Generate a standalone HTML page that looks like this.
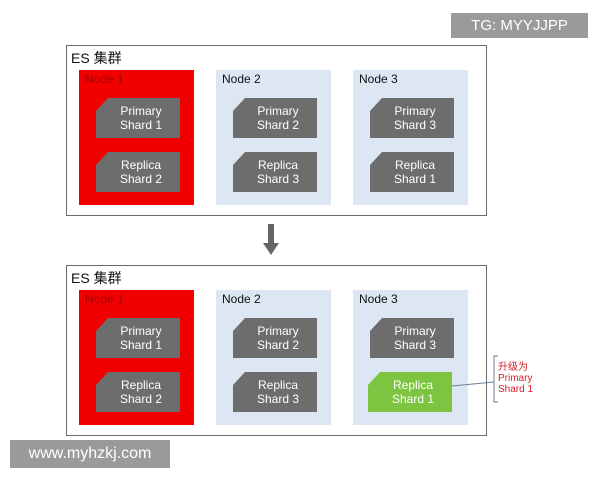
<!DOCTYPE html>
<html><head><meta charset="utf-8"><style>
body{margin:0;width:600px;height:480px;background:#fff;position:relative;overflow:hidden;font-family:"Liberation Sans","Noto Sans CJK SC",sans-serif}
.a{position:absolute}
.cl{border:1.5px solid #6a6a6a;box-sizing:border-box;background:#fff}
.t{font-size:14px;color:#111}
.n{background:#dde7f3}
.r{background:#f20000}
.nl{font-size:12px;color:#111}
.sh{width:84px;height:40px;background:#6d6d6d;clip-path:polygon(12px 0,100% 0,100% 100%,0 100%,0 13px);color:#fff;font-size:12px;line-height:14px;text-align:center;display:flex;align-items:center;justify-content:center;padding-left:6px;box-sizing:border-box}
.g{background:#7dc540}
</style></head><body>
<div class="a" style="left:451px;top:13px;width:137px;height:25px;background:#9a9a9a;color:#fff;font-size:15px;line-height:25px;text-align:center">TG: MYYJJPP</div>

<div class="a cl" style="left:66px;top:45px;width:421px;height:171px"></div>
<div class="a t" style="left:71px;top:48px">ES 集群</div>
<div class="a r" style="left:79px;top:70px;width:115px;height:135px"></div>
<div class="a n" style="left:216px;top:70px;width:115px;height:135px"></div>
<div class="a n" style="left:353px;top:70px;width:115px;height:135px"></div>
<div class="a nl" style="left:85px;top:72px;color:#a00">Node 1</div>
<div class="a nl" style="left:222px;top:72px">Node 2</div>
<div class="a nl" style="left:359px;top:72px">Node 3</div>
<div class="a sh" style="left:96px;top:98px">Primary<br>Shard 1</div>
<div class="a sh" style="left:96px;top:152px">Replica<br>Shard 2</div>
<div class="a sh" style="left:233px;top:98px">Primary<br>Shard 2</div>
<div class="a sh" style="left:233px;top:152px">Replica<br>Shard 3</div>
<div class="a sh" style="left:370px;top:98px">Primary<br>Shard 3</div>
<div class="a sh" style="left:370px;top:152px">Replica<br>Shard 1</div>

<svg class="a" style="left:260px;top:222px" width="22" height="36"><rect x="8" y="2" width="6" height="20" fill="#666"/><polygon points="3,21 19,21 11,33" fill="#666"/></svg>

<div class="a cl" style="left:66px;top:265px;width:421px;height:171px"></div>
<div class="a t" style="left:71px;top:268px">ES 集群</div>
<div class="a r" style="left:79px;top:290px;width:115px;height:135px"></div>
<div class="a n" style="left:216px;top:290px;width:115px;height:135px"></div>
<div class="a n" style="left:353px;top:290px;width:115px;height:135px"></div>
<div class="a nl" style="left:85px;top:292px;color:#a00">Node 1</div>
<div class="a nl" style="left:222px;top:292px">Node 2</div>
<div class="a nl" style="left:359px;top:292px">Node 3</div>
<div class="a sh" style="left:96px;top:318px">Primary<br>Shard 1</div>
<div class="a sh" style="left:96px;top:372px">Replica<br>Shard 2</div>
<div class="a sh" style="left:233px;top:318px">Primary<br>Shard 2</div>
<div class="a sh" style="left:233px;top:372px">Replica<br>Shard 3</div>
<div class="a sh" style="left:370px;top:318px">Primary<br>Shard 3</div>
<div class="a sh g" style="left:368px;top:372px">Replica<br>Shard 1</div>

<svg class="a" style="left:450px;top:350px" width="50" height="56"><line x1="2" y1="36" x2="44" y2="32" stroke="#6a7f99" stroke-width="1"/><path d="M48 6 H44 V52 H48" fill="none" stroke="#6a7f99" stroke-width="1"/></svg>
<div class="a" style="left:498px;top:362px;font-size:10px;line-height:11px;color:#d4202a">升级为<br>Primary<br>Shard 1</div>

<div class="a" style="left:10px;top:440px;width:160px;height:28px;background:#9a9a9a;color:#fff;font-size:16px;line-height:28px;text-align:center">www.myhzkj.com</div>
</body></html>
